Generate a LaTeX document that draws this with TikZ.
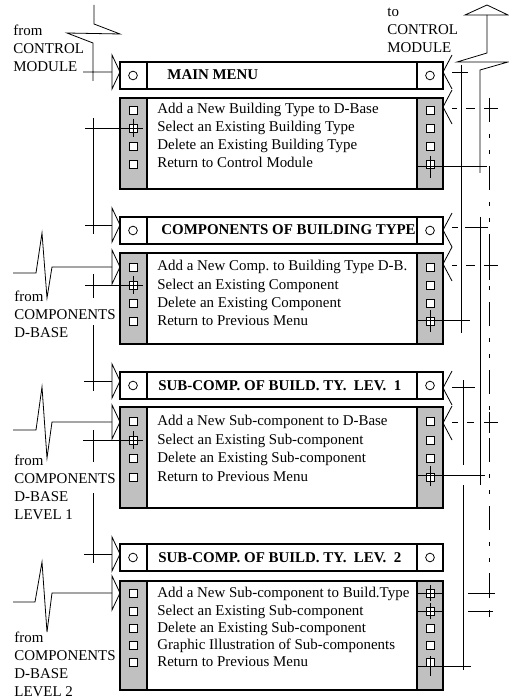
\documentclass[tikz,border=0pt]{standalone}
\usepackage{fontspec}
\setmainfont{Liberation Serif}
\usetikzlibrary{calc}
\definecolor{stripgray}{RGB}{192,192,192}
\frenchspacing

\tikzset{
  boxline/.style={line width=0.9pt},
  wire/.style={line width=0.6pt},
  sq/.style={draw, fill=white, line width=0.6pt, minimum size=6pt, inner sep=0pt},
  ring/.style={draw, circle, line width=0.6pt, minimum size=6.5pt, inner sep=0pt},
  optext/.style={anchor=base west, inner sep=0pt},
  headtitle/.style={anchor=base west, inner sep=0pt, font=\fontsize{11.2}{13.5}\selectfont\bfseries},
  lbl/.style={anchor=west, align=left, inner sep=0pt},
  dbline/.style={line width=0.6pt, dash pattern=on 18pt off 9pt on 3pt off 9pt on 3pt off 9pt},
}

% header bar: name, top, title x, title
\newcommand\menuhead[4]{%
  \draw[boxline] (120,#2) rectangle (443,#2+27) (147,#2) -- (147,#2+27) (417,#2) -- (417,#2+27);
  \node[ring] (#1-l) at (133,#2+13.5) {};
  \node[ring] (#1-r) at (430,#2+13.5) {};
  \node[headtitle] (#1) at (#3,#2+18) {#4};}
% option box: top, bottom
\newcommand\menuopts[2]{%
  \fill[stripgray] (120,#1) rectangle (147,#2) (417,#1) rectangle (443,#2);
  \draw[boxline] (120,#1) rectangle (443,#2) (147,#1) -- (147,#2) (417,#1) -- (417,#2);}
\newcommand\inarrow[1]{\draw (112,#1-17) -- (120,#1) -- (112,#1+17) -- cycle;}
\newcommand\backarrow[1]{\draw (452,#1-17) -- (443,#1) -- (452,#1+17);}

\begin{document}
\begin{tikzpicture}[x=0.75pt, y=-0.75pt, font=\fontsize{11.2}{13.5}\selectfont, wire]
\useasboundingbox (0,0) rectangle (509,698);

% menu 1
\menuhead{mainmenu}{62}{167}{MAIN MENU}
\menuopts{98}{189}
\foreach \y/\t [count=\i] in {110/Add a New Building Type to D-Base,128/Select an Existing Building Type,
    146/Delete an Existing Building Type,164/Return to Control Module}{
  \node[sq] (ma\i) at (133,\y) {};
  \node[sq] (mb\i) at (430,\y) {};
  \node[optext] (mt\i) at (157,\y+4) {\t};}

% menu 2
\menuhead{compmenu}{217}{161}{COMPONENTS OF BUILDING TYPE}
\menuopts{253}{344}
\foreach \y/\t [count=\i] in {267/Add a New Comp. to Building Type D-B.,285/Select an Existing Component,
    303/Delete an Existing Component,321/Return to Previous Menu}{
  \node[sq] (ca\i) at (133,\y) {};
  \node[sq] (cb\i) at (430,\y) {};
  \node[optext] (ct\i) at (157,\y+4) {\t};}

% menu 3
\menuhead{levonemenu}{372}{158}{SUB-COMP. OF BUILD. TY.\ \ LEV.\ \ 1}
\menuopts{407}{508}
\foreach \y/\t [count=\i] in {421/Add a New Sub-component to D-Base,440/Select an Existing Sub-component,
    458/Delete an Existing Sub-component,477/Return to Previous Menu}{
  \node[sq] (sa\i) at (133,\y) {};
  \node[sq] (sb\i) at (430,\y) {};
  \node[optext] (st\i) at (157,\y+4) {\t};}

% menu 4
\menuhead{levtwomenu}{544}{158}{SUB-COMP. OF BUILD. TY.\ \ LEV.\ \ 2}
\menuopts{581}{690}
\foreach \y/\t [count=\i] in {593/Add a New Sub-component to Build.Type,611/Select an Existing Sub-component,
    628/Delete an Existing Sub-component,645/Graphic Illustration of Sub-components,662/Return to Previous Menu}{
  \node[sq] (ta\i) at (133,\y) {};
  \node[sq] (tb\i) at (430,\y) {};
  \node[optext] (tt\i) at (157,\y+4) {\t};}

% left side: entries
\node[lbl] (fromctl) at (13,48) {from\\CONTROL\\MODULE};
\draw (94,5) -- (94,24) -- (120,34) -- (67,33) -- (93,43) -- (93,81) (83,72) -- (112,72);
\inarrow{72} \inarrow{225} \inarrow{267} \inarrow{381} \inarrow{422} \inarrow{554} \inarrow{593}

\draw (85,128) -- (143,128) (133,119) -- (133,137);
\draw (93,118) -- (93,234) (85,225) -- (112,225);
\draw (85,285) -- (143,285) (133,276) -- (133,294);
\draw (93,274) -- (93,298) (93,325) -- (93,391) (84,381) -- (112,381);
\draw (83,440) -- (143,440) (133,431) -- (133,449);
\draw (93,430) -- (93,462) (93,493) -- (93,563) (84,554) -- (112,554);

\node[lbl] (fromcomp) at (14,314) {from\\COMPONENTS\\D-BASE};
\draw (13,273) -- (36,273) -- (42,233) -- (47,298) -- (52,267) -- (112,267);
\node[lbl] (fromlevone) at (14,487) {from\\COMPONENTS\\D-BASE\\LEVEL 1};
\draw (13,430) -- (36,430) -- (42,387) -- (47,458) -- (52,422) -- (112,422);
\node[lbl] (fromlevtwo) at (14,664) {from\\COMPONENTS\\D-BASE\\LEVEL 2};
\draw (13,602) -- (35,602) -- (42,562) -- (47,632) -- (52,593) -- (112,593);

% right side: returns
\node[lbl] (toctl) at (387,30) {to\\CONTROL\\MODULE};
\draw (465,15) -- (487,5) -- (508,15) -- cycle;
\draw (487,15) -- (487,53) -- (457,62) -- (508,62) -- (480,70) -- (480,173);
\backarrow{72} \backarrow{107} \backarrow{230} \backarrow{264} \backarrow{388} \backarrow{423}

\draw (461,65) -- (461,333);
\draw (480,217) -- (480,485);
\draw (463,380) -- (463,465) (463,485) -- (463,670);
\draw[dbline] (489,98) -- (489,617);
\draw (489,98) -- (489,116) (489,256) -- (489,280) (489,412) -- (489,433)
      (489,573) -- (489,592) (489,611) -- (489,617);

\draw (452,72) -- (468,72);
\draw (452,108) -- (457,108) (466,108) -- (475,108) (484,108) -- (498,108);
\draw (452,227) -- (458,227) (465,227) -- (488,227);
\draw (452,265) -- (457,265) (466,265) -- (475,265) (484,265) -- (498,265);
\draw (452,387) -- (475,387);
\draw (452,422) -- (458,422) (467,422) -- (474,422) (484,422) -- (498,422);

\draw (418,166) -- (487,166) (430,156) -- (430,178);
\draw (418,320) -- (470,320) (430,310) -- (430,332);
\draw (418,475) -- (485,475) (430,466) -- (430,486);
\draw (418,593) -- (443,593) (468,593) -- (495,593) (430,585) -- (430,601);
\draw (418,611) -- (443,611) (468,611) -- (493,611) (430,603) -- (430,619);
\draw (418,666) -- (471,666) (430,656) -- (430,676);
\end{tikzpicture}
\end{document}
